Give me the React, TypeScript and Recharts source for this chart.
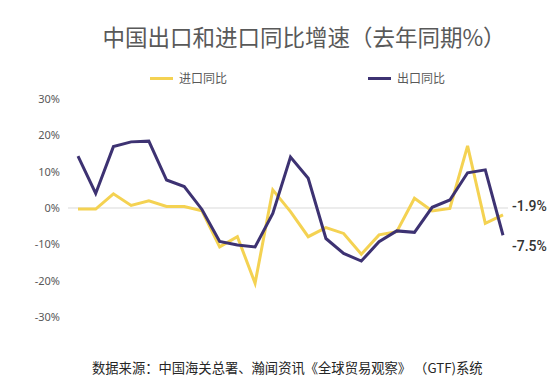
import React from 'react';
import { LineChart, Line, XAxis, YAxis, ReferenceLine, LabelList } from 'recharts';

const periods = [
  'P01', 'P02', 'P03', 'P04', 'P05', 'P06', 'P07', 'P08', 'P09', 'P10',
  'P11', 'P12', 'P13', 'P14', 'P15', 'P16', 'P17', 'P18', 'P19', 'P20',
  'P21', 'P22', 'P23', 'P24', 'P25',
];
const importYoY = [
  -0.3, -0.3, 3.9, 0.7, 2.0, 0.4, 0.4, -0.8, -10.7, -7.9,
  -20.7, 5.0, -1.0, -7.9, -5.4, -7.0, -12.7, -7.4, -6.5, 2.7,
  -0.8, -0.1, 17.1, -4.2, -1.9,
];
const exportYoY = [
  14.3, 4.0, 16.9, 18.2, 18.4, 7.7, 5.9, -0.4, -9.2, -10.2,
  -10.7, -1.5, 14.0, 8.2, -8.4, -12.5, -14.6, -9.3, -6.3, -6.7,
  0.2, 2.2, 9.7, 10.5, -7.5,
];
const yTicks = [-30, -20, -10, 0, 10, 20, 30];
const seriesNames = ['进口同比', '出口同比'];
const seriesColors = ['#F4D252', '#3D3272'];
const title = '中国出口和进口同比增速（去年同期%）';
const source = '数据来源：中国海关总署、瀚闻资讯《全球贸易观察》 （GTF)系统';

const data = periods.map((p, i) => ({ period: p, imp: importYoY[i], exp: exportYoY[i] }));
const lastIndex = periods.length - 1;

const cjk = '"Noto Sans CJK SC", "Noto Sans", sans-serif';

const endLabel = (dy: number) => (props: any) => {
  const { x, y, index, value } = props;
  if (index !== lastIndex) return null;
  return (
    <text
      x={Number(x) + 9}
      y={Number(y) + dy}
      dominantBaseline="central"
      fontFamily="Roboto, sans-serif"
      fontWeight={500}
      fontSize={14}
      fill="#333333"
    >
      {`${Number(value).toFixed(1)}%`}
    </text>
  );
};

export default function App() {
  return (
    <div style={{ position: 'absolute', left: 0, top: 0, width: 554, height: 385, background: '#fff' }}>
      <div
        style={{
          position: 'absolute', left: 0, width: 554, top: 22, textAlign: 'center',
          paddingLeft: 54, boxSizing: 'border-box',
          fontFamily: cjk, fontSize: 22.5, lineHeight: '28px', color: '#595959', whiteSpace: 'nowrap',
        }}
      >
        {title}
      </div>
      {[150, 368].map((lx, i) => (
        <div key={i} style={{ position: 'absolute', left: lx, top: 69, height: 18, display: 'flex', alignItems: 'center' }}>
          <div style={{ width: 23, height: 3, background: seriesColors[i] }} />
          <span style={{ marginLeft: 6, fontFamily: cjk, fontSize: 12, color: '#595959', lineHeight: '18px' }}>
            {seriesNames[i]}
          </span>
        </div>
      ))}
      <div
        style={{
          position: 'absolute', left: 92, top: 358, fontFamily: cjk, fontSize: 13.3,
          lineHeight: '20px', color: '#262626', whiteSpace: 'pre',
        }}
      >
        {source}
      </div>
      <div style={{ position: 'absolute', left: 0, top: 0 }}>
        <LineChart width={554} height={385} data={data} margin={{ top: 99, right: 46, bottom: 68, left: 0 }}>
          <XAxis dataKey="period" hide padding={{ left: 10, right: 5 }} />
          <YAxis
            width={68}
            domain={[-30, 30]}
            ticks={yTicks}
            axisLine={false}
            tickLine={false}
            tickFormatter={(v: number) => `${v}%`}
            tick={{ fill: '#595959', fontSize: 11, fontFamily: '"Noto Sans", sans-serif' }}
          />
          <ReferenceLine y={0} stroke="#D9D9D9" strokeWidth={1} />
          <Line
            type="linear"
            dataKey="imp"
            name={seriesNames[0]}
            stroke={seriesColors[0]}
            strokeWidth={3}
            dot={false}
            isAnimationActive={false}
          >
            <LabelList dataKey="imp" content={endLabel(-9)} />
          </Line>
          <Line
            type="linear"
            dataKey="exp"
            name={seriesNames[1]}
            stroke={seriesColors[1]}
            strokeWidth={3}
            dot={false}
            isAnimationActive={false}
          >
            <LabelList dataKey="exp" content={endLabel(10.5)} />
          </Line>
        </LineChart>
      </div>
    </div>
  );
}
